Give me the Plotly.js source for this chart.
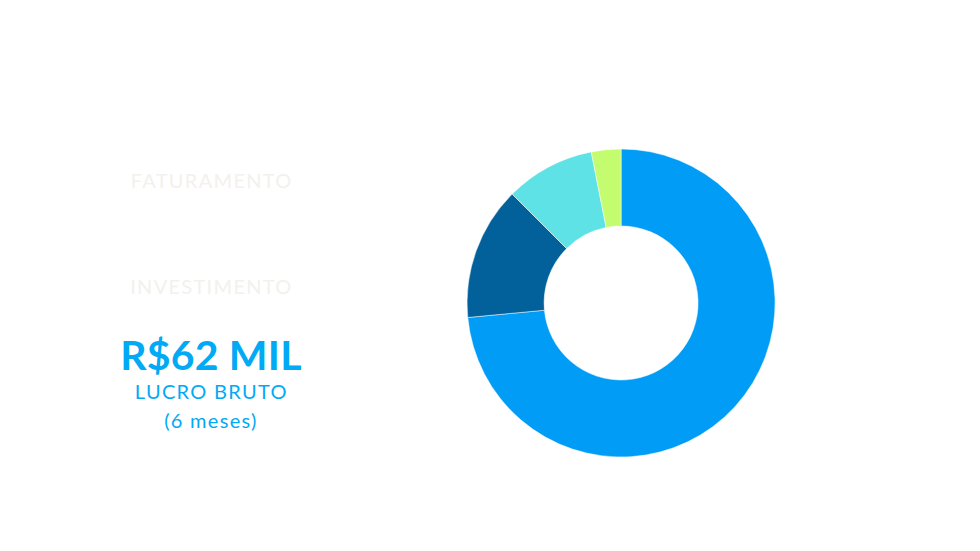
<!DOCTYPE html>
<html>
<head>
<meta charset="utf-8">
<script src="https://cdn.plot.ly/plotly-3.0.1.min.js"></script>
<style>
html,body{margin:0;padding:0;background:#fff;}
#chart{width:980px;height:551px;}
#chart g.annotation text{letter-spacing:1.3px;}
#chart g.annotation[data-index="2"] text{letter-spacing:0.2px;}
</style>
</head>
<body>
<div id="chart"></div>
<script>
const categories = ["Lucro bruto", "Investimento", "Custos", "Outros"];
const values = [73.5, 14.0, 9.4, 3.1];
const colors = ["#019cf5", "#02619b", "#5ee2e6", "#c3fc6e"];

const trace = {
  type: "pie",
  labels: categories,
  values: values,
  hole: 0.5,
  sort: false,
  direction: "clockwise",
  rotation: 0,
  textinfo: "none",
  hoverinfo: "label+percent",
  marker: {colors: colors, line: {color: "#ffffff", width: 0.5}},
  domain: {x: [0.4765, 0.791], y: [0.1706, 0.7296]},
  showlegend: false
};

const font = "Lato, 'Open Sans', sans-serif";
const layout = {
  width: 980, height: 551,
  margin: {l: 0, r: 0, t: 0, b: 0},
  paper_bgcolor: "#ffffff",
  showlegend: false,
  annotations: [
    {text: "FATURAMENTO", x: 211, y: 551-180, showarrow: false,
     font: {family: font, size: 20, color: "#f3f1ec"}},
    {text: "INVESTIMENTO", x: 211, y: 551-286, showarrow: false,
     font: {family: font, size: 20, color: "#f3f1ec"}},
    {text: "<b>R$62 MIL</b>", x: 211, y: 551-355, showarrow: false,
     font: {family: font, size: 41, color: "#02a9f4"}},
    {text: "LUCRO BRUTO", x: 211, y: 551-391, showarrow: false,
     font: {family: font, size: 20, color: "#02a9f4"}},
    {text: "(6 meses)", x: 211, y: 551-420, showarrow: false,
     font: {family: font, size: 20, color: "#02a9f4"}}
  ]
};
layout.annotations.forEach(a => { a.xref = "paper"; a.yref = "paper"; a.x = a.x / 980; a.y = a.y / 551; a.xanchor = "center"; a.yanchor = "middle"; });

Plotly.newPlot("chart", [trace], layout, {displayModeBar: false, staticPlot: true});
</script>
</body>
</html>
